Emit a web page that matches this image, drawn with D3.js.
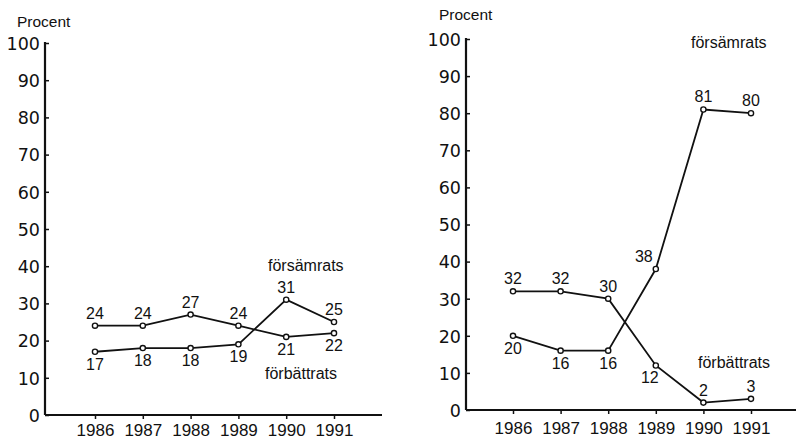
<!DOCTYPE html>
<html><head><meta charset="utf-8">
<script src="https://cdn.jsdelivr.net/npm/d3@7"></script>
<style>
body{margin:0;background:#fff;}
svg{display:block;}
.tick line{stroke:#111;stroke-width:1.5;}
.tick text{fill:#111;}
</style></head>
<body><svg id="c" width="796" height="442"></svg>
<script>
// ---- data ----
const years = [1986, 1987, 1988, 1989, 1990, 1991];
const yTicks = [0, 10, 20, 30, 40, 50, 60, 70, 80, 90, 100];
const leftForsamrats = [17, 18, 18, 19, 31, 25];
const leftForbattrats = [24, 24, 27, 24, 21, 22];
const rightForsamrats = [20, 16, 16, 38, 81, 80];
const rightForbattrats = [32, 32, 30, 12, 2, 3];
const yLabel = "Procent";
const nameWorse = "försämrats";
const nameBetter = "förbättrats";

// label placement per point (style, not data)
const leftWorsePos = ["below", "below", "below", "below", "above", "above"];
const leftBetterPos = ["above", "above", "above", "above", "below", "below"];
const rightWorsePos = ["below", "below", "below", "left", "above", "above"];
const rightBetterPos = ["above", "above", "above", "belowleft", "above", "above"];

const svg = d3.select("#c");
const ink = "#111";

const panels = [
  {axisX: 45, y0: 415, y100: 43, xFirst: 95, xLast: 334, axisEnd: 382, xPad: 5,
   series: [{v: leftForsamrats, pos: leftWorsePos}, {v: leftForbattrats, pos: leftBetterPos}],
   procent: [17, 27], worseLab: [268, 271], betterLab: [265, 379]},
  {axisX: 466, y0: 410, y100: 39, xFirst: 513, xLast: 751, axisEnd: 796, xPad: 8,
   series: [{v: rightForsamrats, pos: rightWorsePos}, {v: rightForbattrats, pos: rightBetterPos}],
   procent: [439, 20], worseLab: [691, 48], betterLab: [698, 368]}
];

panels.forEach(p => {
  const g = svg.append("g");
  const y = d3.scaleLinear().domain([0, 100]).range([p.y0, p.y100]);
  const x = d3.scalePoint().domain(years).range([p.xFirst, p.xLast]);

  // y axis
  const ya = g.append("g").attr("transform", `translate(${p.axisX},0)`)
    .call(d3.axisLeft(y).tickValues(yTicks).tickSizeInner(-4).tickSizeOuter(0).tickPadding(5));
  ya.select(".domain").remove();
  ya.selectAll(".tick text").attr("font-family", "DejaVu Sans").attr("font-size", 17.5).attr("dy", "0.36em");
  g.append("line").attr("x1", p.axisX).attr("x2", p.axisX).attr("y1", y(100) - 1).attr("y2", y(0))
    .attr("stroke", ink).attr("stroke-width", 2.2);

  // x axis
  const xa = g.append("g").attr("transform", `translate(0,${p.y0})`)
    .call(d3.axisBottom(x).tickSizeInner(4).tickSizeOuter(0).tickPadding(p.xPad));
  xa.select(".domain").remove();
  xa.selectAll(".tick text").attr("font-family", "Liberation Sans, Arial").attr("font-size", 17);
  g.append("line").attr("x1", p.axisX).attr("x2", p.axisEnd).attr("y1", y(0)).attr("y2", y(0))
    .attr("stroke", ink).attr("stroke-width", 2.2);

  g.append("text").attr("x", p.procent[0]).attr("y", p.procent[1])
    .attr("font-family", "Liberation Sans, Arial").attr("font-size", 15.5).attr("fill", ink).text(yLabel);

  const line = d3.line().x((d, i) => x(years[i])).y(d => y(d));
  p.series.forEach(s => {
    g.append("path").datum(s.v).attr("d", line).attr("fill", "none")
      .attr("stroke", ink).attr("stroke-width", 1.8);
    g.selectAll(null).data(s.v).enter().append("circle")
      .attr("cx", (d, i) => x(years[i])).attr("cy", d => y(d)).attr("r", 2.6)
      .attr("fill", "#fff").attr("stroke", ink).attr("stroke-width", 1.4);
    g.selectAll(null).data(s.v).enter().append("text")
      .attr("font-family", "Liberation Sans, Arial").attr("font-size", 16).attr("fill", ink)
      .attr("text-anchor", "middle")
      .attr("x", (d, i) => {
        const pos = s.pos[i]; const cx = x(years[i]);
        return pos === "left" ? cx - 12 : pos === "belowleft" ? cx - 6 : cx;
      })
      .attr("y", (d, i) => {
        const pos = s.pos[i]; const cy = y(d);
        return pos === "above" ? cy - 7 : pos === "left" ? cy - 7 : cy + 18;
      })
      .text(d => d);
  });

  g.append("text").attr("x", p.worseLab[0]).attr("y", p.worseLab[1])
    .attr("font-family", "Liberation Sans, Arial").attr("font-size", 16).attr("fill", ink).text(nameWorse);
  g.append("text").attr("x", p.betterLab[0]).attr("y", p.betterLab[1])
    .attr("font-family", "Liberation Sans, Arial").attr("font-size", 16).attr("fill", ink).text(nameBetter);
});
</script></body></html>
